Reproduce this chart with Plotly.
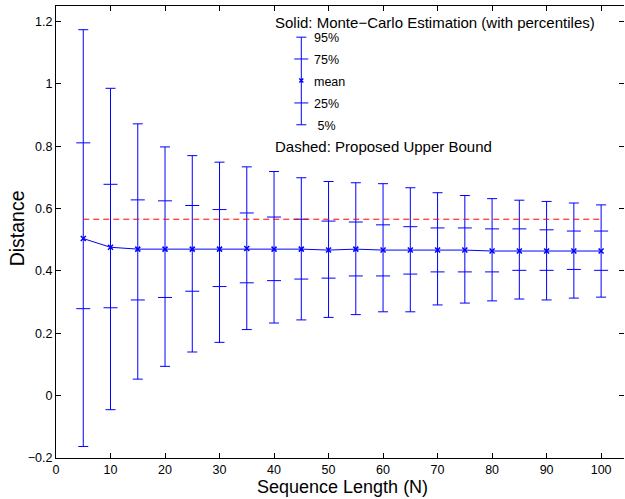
import plotly.graph_objects as go

# ---- data ----
N = [5, 10, 15, 20, 25, 30, 35, 40, 45, 50, 55, 60, 65, 70, 75, 80, 85, 90, 95, 100]
p95 = [1.174, 0.986, 0.872, 0.798, 0.770, 0.749, 0.734, 0.719, 0.699, 0.687,
       0.683, 0.680, 0.667, 0.651, 0.642, 0.632, 0.627, 0.623, 0.618, 0.612]
p75 = [0.811, 0.678, 0.628, 0.625, 0.610, 0.597, 0.586, 0.573, 0.566, 0.560,
       0.557, 0.548, 0.542, 0.538, 0.538, 0.535, 0.535, 0.532, 0.528, 0.528]
mean = [0.504, 0.476, 0.470, 0.470, 0.470, 0.470, 0.472, 0.470, 0.470, 0.467,
        0.470, 0.467, 0.467, 0.467, 0.467, 0.464, 0.464, 0.464, 0.464, 0.464]
p25 = [0.279, 0.282, 0.307, 0.315, 0.335, 0.350, 0.362, 0.369, 0.374, 0.377,
       0.384, 0.384, 0.390, 0.397, 0.397, 0.397, 0.402, 0.402, 0.405, 0.402]
p5 = [-0.163, -0.045, 0.053, 0.094, 0.140, 0.171, 0.212, 0.233, 0.243, 0.251,
      0.260, 0.269, 0.269, 0.291, 0.297, 0.304, 0.310, 0.307, 0.313, 0.316]
bound = [0.566] * len(N)

x_ticks = [0, 10, 20, 30, 40, 50, 60, 70, 80, 90, 100]
y_ticks = [-0.2, 0, 0.2, 0.4, 0.6, 0.8, 1.0, 1.2]
y_ticktext = ["\u22120.2", "0", "0.2", "0.4", "0.6", "0.8", "1", "1.2"]

# in-plot key (drawn with the same glyph as the data)
key_x = [45]
key_vals = {"95%": 1.150, "75%": 1.080, "mean": 1.011, "25%": 0.939, " 5%": 0.869}
key_label_x = 47.0
title_solid = "Solid: Monte\u2212Carlo Estimation (with percentiles)"
title_dashed = "Dashed: Proposed Upper Bound"
x_title = "Sequence Length (N)"
y_title = "Distance"

BLUE = "#0000ff"
RED = "#ff0000"
FONT = "Liberation Sans, Arial, Helvetica, sans-serif"

fig = go.Figure()

# dashed bound
fig.add_trace(go.Scatter(x=N, y=bound, mode="lines",
                         line=dict(color=RED, width=1, dash="6px,4px"),
                         yaxis="y2", hoverinfo="skip"))

# mean line with 5%-95% whiskers
fig.add_trace(go.Scatter(
    x=N, y=mean, mode="lines+markers",
    line=dict(color=BLUE, width=1),
    marker=dict(symbol="x-thin", size=5, color=BLUE, line=dict(color=BLUE, width=1.5)),
    error_y=dict(type="data", symmetric=False,
                 array=[a - m for a, m in zip(p95, mean)],
                 arrayminus=[m - b for m, b in zip(mean, p5)],
                 color=BLUE, thickness=1, width=5),
))
# 25% and 75% ticks
for vals in (p25, p75):
    fig.add_trace(go.Scatter(x=N, y=vals, mode="markers",
                             marker=dict(symbol="line-ew", size=10,
                                         line=dict(color=BLUE, width=1)),
                             hoverinfo="skip"))

# key glyph
km = key_vals["mean"]
fig.add_trace(go.Scatter(
    x=key_x, y=[km], mode="markers",
    marker=dict(symbol="x-thin", size=4, color=BLUE, line=dict(color=BLUE, width=1.5)),
    error_y=dict(type="data", symmetric=False,
                 array=[key_vals["95%"] - km], arrayminus=[km - key_vals[" 5%"]],
                 color=BLUE, thickness=1, width=5),
))
fig.add_trace(go.Scatter(
    x=key_x * 2, y=[key_vals["75%"], key_vals["25%"]], mode="markers",
    marker=dict(symbol="line-ew", size=10, line=dict(color=BLUE, width=1)),
))

for lab, v in key_vals.items():
    fig.add_annotation(x=key_label_x, y=v - 0.004, text=lab, showarrow=False,
                       xanchor="left", yanchor="middle", xref="x", yref="y",
                       font=dict(family=FONT, size=12.5, color="black"))
fig.add_annotation(x=39.8, y=1.196, text=title_solid, showarrow=False,
                   xanchor="left", yanchor="middle",
                   font=dict(family=FONT, size=15, color="black"))
fig.add_annotation(x=39.8, y=0.800, text=title_dashed, showarrow=False,
                   xanchor="left", yanchor="middle",
                   font=dict(family=FONT, size=15, color="black"))

# axis titles
fig.add_annotation(x=0.505, y=-0.0634, xref="paper", yref="paper", text=x_title,
                   showarrow=False, xanchor="center", yanchor="middle",
                   font=dict(family=FONT, size=18, color="black"))
fig.add_annotation(x=-0.0687, y=0.508, xref="paper", yref="paper", text=y_title,
                   showarrow=False, xanchor="center", yanchor="middle", textangle=-90,
                   font=dict(family=FONT, size=19.5, color="black"))

fig.update_layout(
    width=625, height=499,
    margin=dict(l=56, r=1, t=6, b=41, autoexpand=False),
    paper_bgcolor="white", plot_bgcolor="white",
    showlegend=False,
    font=dict(family=FONT, size=12, color="black"),
    xaxis=dict(range=[0, 104.2], tickvals=x_ticks, ticks="inside", ticklen=5,
               tickcolor="black", showline=True, linecolor="black", linewidth=1,
               mirror="ticks", showgrid=False, zeroline=False, automargin=False,
               tickfont=dict(size=12.5)),
    yaxis=dict(range=[-0.2, 1.25], tickvals=y_ticks, ticktext=y_ticktext,
               ticks="inside", ticklen=5, tickcolor="black", automargin=False,
               showline=True, linecolor="black", linewidth=1, mirror=False,
               showgrid=False, zeroline=False, tickfont=dict(size=12.5)),
    yaxis2=dict(range=[-0.2, 1.25], overlaying="y", side="right", automargin=False,
                tickvals=y_ticks, ticks="inside", ticklen=5, tickcolor="black",
                showticklabels=False, showline=False, showgrid=False, zeroline=False),
)

fig.write_html("out.html", config={"displayModeBar": False},
               post_script="document.body.style.margin='0';document.body.style.overflow='hidden';")
